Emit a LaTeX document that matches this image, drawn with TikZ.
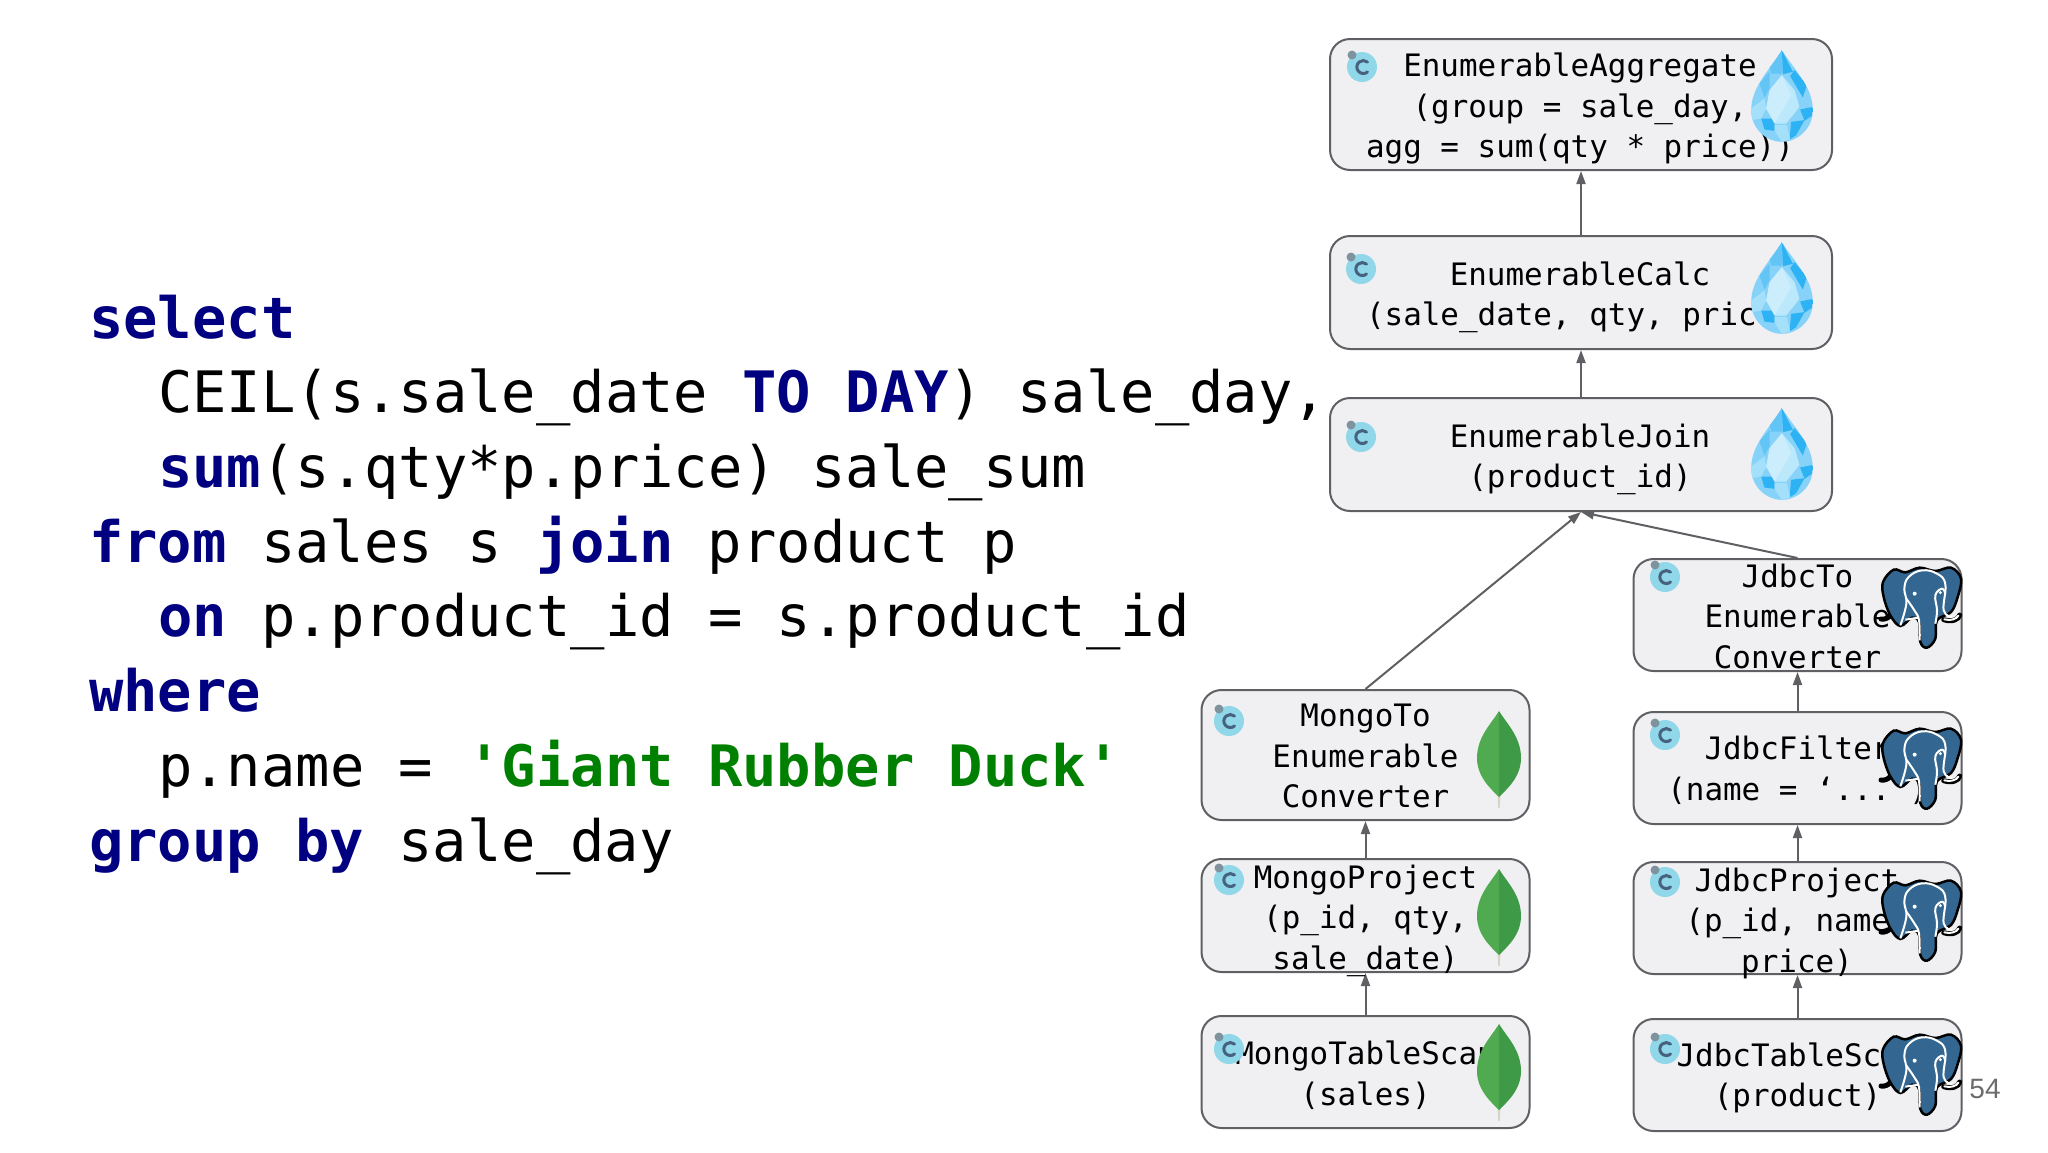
\documentclass[tikz,border=0pt]{standalone}
\usepackage{fontspec}
\setmainfont{DejaVu Sans}
\newfontfamily\codefont{DejaVu Sans Mono}
\newfontfamily\numfont{Liberation Sans}
\usetikzlibrary{arrows.meta}
\definecolor{kwblue}{HTML}{000080}
\definecolor{strgreen}{HTML}{008000}
\definecolor{boxfill}{HTML}{F0F0F2}
\definecolor{edgegray}{HTML}{5F6063}
\definecolor{dropbase}{HTML}{86D2F8}
\definecolor{dropdark}{HTML}{2DB2F3}
\definecolor{dropmid}{HTML}{62C5F6}
\definecolor{droplight}{HTML}{A5E0FA}
\definecolor{droppale}{HTML}{BCE8FC}
\definecolor{pgblue}{HTML}{336791}
\definecolor{iconteal}{HTML}{8FD7E9}
\definecolor{iconslate}{HTML}{47627F}
\definecolor{iconblob}{HTML}{7F939E}
\definecolor{leafleft}{HTML}{4FAA50}
\definecolor{leafright}{HTML}{3F9A48}
\definecolor{leafstem}{HTML}{D8D4C4}
\newcommand{\kw}[1]{\textcolor{kwblue}{\bfseries #1}}
\newcommand{\strlit}[1]{\textcolor{strgreen}{\bfseries #1}}
\tikzset{
  sqlline/.style={anchor=base west, inner sep=0pt, font=\codefont\fontsize{57.1pt}{75pt}\selectfont},
  opbox/.style={draw=edgegray, fill=boxfill, line width=2pt, rounded corners=20pt},
  enumbox/.style={opbox, minimum width=502pt},
  sidebox/.style={opbox, minimum width=328pt},
  optext/.style={align=center, inner sep=0pt, font=\codefont\fontsize{30.9pt}{40.5pt}\selectfont},
  flow/.style={draw=edgegray, line width=2pt, -{Triangle[length=13pt,width=9pt]}},
  pics/cicon/.style={code={
    \fill[iconteal] (0,0) circle (15);
    \fill[iconblob] (-10,-12) circle (4.5);
    \draw[iconslate, line width=3pt, line cap=round] (5.5,5) arc (50:310:6.5);
  }},
  pics/drop/.style={code={
    \begin{scope}[scale=0.3333, shift={(-97.5,-167.5)}]
      \begin{scope}
        \clip (97,30) .. controls (60,90) and (5,140) .. (5,210) .. controls (5,265) and (50,305) .. (97,305) .. controls (145,305) and (190,265) .. (190,210) .. controls (190,140) and (135,90) .. (97,30);
        \fill[dropbase] (0,0) rectangle (200,320);
        \fill[dropmid] (97,30) -- (60,80) -- (65,100) -- (97,100) -- cycle;
        \fill[dropmid] (30,130) -- (60,95) -- (60,145) -- (45,172) -- cycle;
        \fill[dropdark] (97,30) -- (130,95) -- (100,102) -- cycle;
        \fill[dropdark] (135,90) -- (172,135) -- (160,172) -- (122,108) -- cycle;
        \fill[dropdark] (190,200) -- (190,225) -- (165,242) -- (152,208) -- cycle;
        \fill[dropdark] (35,235) -- (75,235) -- (75,272) -- (45,268) -- cycle;
        \fill[dropdark] (125,245) -- (165,240) -- (140,285) -- (120,298) -- cycle;
        \fill[droplight] (5,205) -- (45,175) -- (50,205) -- (35,235) -- (5,240) -- cycle;
        \fill[droplight] (75,255) -- (112,255) -- (122,298) -- (97,305) -- (75,272) -- cycle;
        \fill[droppale] (97,105) -- (135,150) -- (150,200) -- (110,250) -- (75,250) -- (50,205) -- (60,150) -- cycle;
        \fill[white, opacity=0.25] (97,105) -- (60,150) -- (50,205) -- (75,250) -- (125,165) -- cycle;
      \end{scope}
    \end{scope}
  }},
  pics/leaf/.style={code={
    \fill[leafstem] (-2,28) -- (2,28) -- (0.7,49) -- (-0.7,49) -- cycle;
    \fill[leafleft] (0,-48) .. controls (-8,-35) and (-22,-22) .. (-22,-1) .. controls (-22,18) and (-8,30) .. (0,38) -- cycle;
    \fill[leafright] (0,-48) .. controls (8,-35) and (22,-22) .. (22,-1) .. controls (22,18) and (8,30) .. (0,38) -- cycle;
  }},
  pics/pgsql/.style={code={
    \begin{scope}[scale=0.3333, shift={(-122,-140)}]
      % tail curls
      \draw[black, line width=5pt, line cap=round] (2,176) .. controls (15,178) and (25,172) .. (30,165);
      \draw[black, line width=5pt, line cap=round] (190,178) .. controls (215,186) and (235,178) .. (238,164);
      \draw[white, line width=2pt, line cap=round] (192,177) .. controls (212,182) and (228,176) .. (234,166);
      % body
      \draw[black, fill=pgblue, line width=2.5pt] plot[smooth cycle, tension=0.6] coordinates {(8,65) (40,28) (75,36) (118,22) (165,32) (212,22) (242,55) (232,110) (212,155) (170,180) (165,235) (140,262) (120,245) (116,185) (95,172) (60,197) (30,165) (10,110)};
      % head and eyes
      \draw[white, line width=2pt] plot[smooth, tension=0.7] coordinates {(60,195) (78,130) (72,85) (85,50) (125,30) (170,40) (195,72) (190,150) (215,170)};
      \draw[white, line width=2pt] plot[smooth, tension=0.7] coordinates {(118,240) (116,180) (102,150) (78,115)};
      \draw[white, line width=2pt] plot[smooth, tension=0.7] coordinates {(165,190) (170,150) (165,105) (185,85) (195,100)};
      \draw[white, line width=2pt] (75,178) -- (115,172);
      \fill[white] (103,100) circle (6);
      \fill[white] (180,97) circle (5);
    \end{scope}
  }},
}
\begin{document}
\begin{tikzpicture}[x=1pt,y=-1pt]
  \useasboundingbox (0,0) rectangle (2048,1152);
  % Query on the left
  \node[sqlline] (sqla) at (89,338) {\kw{select}};
  \node[sqlline] (sqlb) at (158,412.7) {CEIL(s.sale\_date \kw{TO DAY}) sale\_day,};
  \node[sqlline] (sqlc) at (158,487.4) {\kw{sum}(s.qty*p.price) sale\_sum};
  \node[sqlline] (sqld) at (89,562) {\kw{from} sales s \kw{join} product p};
  \node[sqlline] (sqle) at (158,636.8) {\kw{on} p.product\_id = s.product\_id};
  \node[sqlline] (sqlf) at (89,711.5) {\kw{where}};
  \node[sqlline] (sqlg) at (158,786) {p.name = \strlit{'Giant Rubber Duck'}};
  \node[sqlline] (sqlh) at (89,861) {\kw{group by} sale\_day};
  % Operator boxes
  \node[enumbox, minimum height=131pt] (agg) at (1581,104.5) {};
  \node[enumbox, minimum height=113pt] (calc) at (1581,292.5) {};
  \node[enumbox, minimum height=113pt] (join) at (1581,454.5) {};
  \node[sidebox, minimum height=112pt] (jdbcto) at (1797.5,615) {};
  \node[sidebox, minimum height=112pt] (jdbcfilter) at (1797.5,768) {};
  \node[sidebox, minimum height=112pt] (jdbcproject) at (1797.5,918) {};
  \node[sidebox, minimum height=112pt] (jdbcscan) at (1797.5,1075) {};
  \node[sidebox, minimum height=130pt] (mongoto) at (1365.5,755) {};
  \node[sidebox, minimum height=113pt] (mongoproject) at (1365.5,915.5) {};
  \node[sidebox, minimum height=112pt] (mongoscan) at (1365.5,1072) {};
  % Arrows
  \draw[flow] (calc) -- (agg);
  \draw[flow] (join) -- (calc);
  \draw[flow] (mongoto.north) -- (join.south);
  \draw[flow] (jdbcto.north) -- (join.south);
  \draw[flow] (mongoproject) -- (mongoto);
  \draw[flow] (mongoscan) -- (mongoproject);
  \draw[flow] (jdbcfilter) -- (jdbcto);
  \draw[flow] (jdbcproject) -- (jdbcfilter);
  \draw[flow] (jdbcscan) -- (jdbcproject);
  % Texts
  \node[optext] (aggtext) at (1580,108.5) {EnumerableAggregate\\(group = sale\_day,\\agg = sum(qty * price))};
  \node[optext] (calctext) at (1580,297.5) {EnumerableCalc\\(sale\_date, qty, price)};
  \node[optext] (jointext) at (1580,459.5) {EnumerableJoin\\(product\_id)};
  \node[optext] (jdbctotext) at (1797.5,616) {JdbcTo\\Enumerable\\Converter};
  \node[optext] (jdbcfiltertext) at (1797.5,770) {JdbcFilter\\(name = ‘...’)};
  \node[optext] (jdbcprojecttext) at (1797,923) {JdbcProject\\(p\_id, name,\\price)};
  \node[optext] (jdbcscantext) at (1797.5,1078) {JdbcTableScan\\(product)};
  \node[optext] (mongototext) at (1365.5,756) {MongoTo\\Enumerable\\Converter};
  \node[optext] (mongoprojecttext) at (1365.5,920.5) {MongoProject\\(p\_id, qty,\\sale\_date)};
  \node[optext] (mongoscantext) at (1365.5,1075) {MongoTableScan\\(sales)};
  % Icons
  \foreach \nm/\xpos/\ypos in {agg/1362/67, calc/1361/269, join/1361/437, jdbcto/1665/577, jdbcfilter/1665/735, jdbcproject/1665/882, jdbcscan/1665/1049, mongoto/1229/721, mongoproject/1229/880, mongoscan/1229/1049}
    \pic (\nm c) at (\xpos,\ypos) {cicon};
  \foreach \ypos in {96,288,454}
    \pic at (1782,\ypos) {drop};
  \foreach \ypos in {759,917,1072}
    \pic at (1499,\ypos) {leaf};
  \foreach \ypos in {607,768,920,1074}
    \pic at (1921,\ypos) {pgsql};
  \node[inner sep=0pt, text=gray!85!black, font=\numfont\fontsize{28pt}{30pt}\selectfont] (pagenum) at (1985,1089) {54};
\end{tikzpicture}
\end{document}
